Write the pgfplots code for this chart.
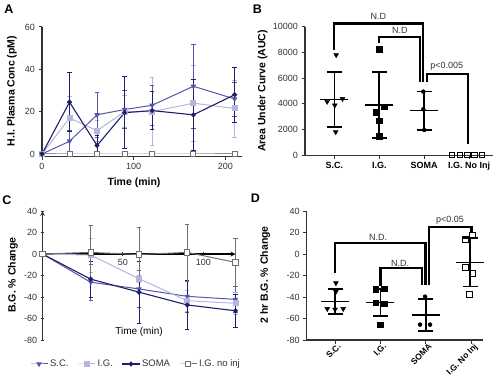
\documentclass[border=0pt]{standalone}
\usepackage{pgfplots}
\pgfplotsset{compat=1.18}
\usepackage{fontspec}
\setmainfont{Liberation Sans}
\definecolor{soma}{HTML}{1E1E6C}
\definecolor{sc}{HTML}{5656A8}
\definecolor{ig}{HTML}{B5B5DD}
\definecolor{noinj}{HTML}{707070}
\definecolor{ax}{HTML}{333333}
\pgfplotsset{
  prism/.style={scale only axis, axis lines=left, axis line style={-, draw=ax, line width=1.2pt},
    tick align=outside, major tick length=3.5pt, tick style={ax, line width=1pt},
    ticklabel style={font=\fontsize{9}{10}\selectfont, text=ax},
    label style={font=\bfseries\fontsize{10.5}{11}\selectfont, text=black},
    scaled ticks=false,
    /pgf/number format/assume math mode=true, /pgf/number format/1000 sep={}, clip=false},
  eb/.style={error bars/.cd, y dir=both, y explicit,
    error bar style={line width=0.7pt, #1},
    error mark options={rotate=90, mark size=2.2pt, line width=0.7pt, #1}},
  meansd/.style={black, only marks, mark=-, mark size=14pt, mark options={line width=1.6pt},
    error bars/.cd, y dir=both, y explicit, error bar style={line width=1.6pt, black},
    error mark options={rotate=90, mark size=7.5pt, line width=1.6pt, black}},
  bracket/.style={black, line width=2.1pt, no marks},
}
\begin{document}
\begin{tikzpicture}
\path[use as bounding box] (0pt,0pt) rectangle (500pt,386pt);
\node[font=\bfseries\fontsize{12.5}{13}\selectfont] at (9pt,377pt) {A};
\node[font=\bfseries\fontsize{12.5}{13}\selectfont] at (257.5pt,377pt) {B};
\node[font=\bfseries\fontsize{12.5}{13}\selectfont] at (7pt,186pt) {C};
\node[font=\bfseries\fontsize{12.5}{13}\selectfont] at (255.5pt,188pt) {D};

% ---------------- A ----------------
\begin{axis}[prism, at={(42pt,229.9pt)}, anchor=south west, width=200pt, height=129.1pt,
  xmin=0, xmax=218, ymin=-1, ymax=60, xtick={0,100,200}, ytick={0,20,40,60},
  xlabel={Time (min)}, ylabel={H.I. Plasma Conc (pM)},
  xlabel style={at={(axis description cs:0.46,-0.206)}, anchor=center},
  ylabel style={at={(axis description cs:-0.15,0.504)}, anchor=center}]
\addplot[noinj!80, line width=1pt, mark=square*, mark size=2.5pt, mark options={fill=white, draw=noinj, line width=0.9pt}]
  coordinates {(0,0) (30,0) (60,0) (90,0) (120,0) (165,0) (210,0)};
\addplot[ig, line width=1pt, mark=square*, mark size=2.5pt, eb=ig] coordinates {
  (0,0) +- (0,0) (30,17) +- (0,10) (60,11) +- (0,5) (90,20) +- (0,7.5)
  (120,20) +- (0,16) (165,24) +- (0,18) (210,21.5) +- (0,13.5)};
\addplot[sc, line width=1pt, mark=triangle*, mark size=2.2pt, mark options={rotate=180}, eb=sc] coordinates {
  (0,0) +- (0,0) (30,6) +- (0,5) (60,18.5) +- (0,10.5) (90,21) +- (0,9)
  (120,23) +- (0,9.5) (165,32) +- (0,20) (210,26) +- (0,8)};
\addplot[soma, line width=1.1pt, mark=*, mark size=1.9pt, eb=soma] coordinates {
  (0,0) +- (0,0) (30,24.5) +- (0,14) (60,4) +- (0,5) (90,19.5) +- (0,17)
  (120,20.5) +- (0,9) (165,18.5) +- (0,17) (210,28) +- (0,13)};
\end{axis}

% ---------------- B ----------------
\begin{axis}[prism, at={(305pt,230.7pt)}, anchor=south west, width=188pt, height=128.6pt,
  xmin=0.347, xmax=4.53, ymin=0, ymax=10000, xtick={1,2,3,4},
  xticklabels={S.C.,I.G.,SOMA,I.G. No Inj},
  xticklabel style={font=\bfseries\fontsize{9}{10}\selectfont, text=black},
  ytick={0,2000,4000,6000,8000,10000},
  ylabel={Area Under Curve (AUC)},
  ylabel style={at={(axis description cs:-0.225,0.5)}, anchor=center}]
\addplot[only marks, mark=triangle*, mark size=2.8pt, mark options={rotate=180, black}]
  coordinates {(1.04,7800) (0.84,4170) (1.01,3890) (1.18,4400) (1.03,1810)};
\addplot[meansd] coordinates {(1,4350) +- (0,2140)};
\addplot[only marks, mark=square*, mark size=2.7pt, mark options={black}]
  coordinates {(2.0,8260) (2.11,3760) (1.92,3340) (2.0,2670) (2.0,1500)};
\addplot[meansd] coordinates {(2,3910) +- (0,2560)};
\addplot[only marks, mark=*, mark size=2pt, mark options={black}]
  coordinates {(2.98,4950) (2.98,3580) (3.0,1970)};
\addplot[meansd] coordinates {(3,3470) +- (0,1480)};
\addplot[only marks, mark=square, mark size=2.7pt, mark options={black, line width=1pt}]
  coordinates {(3.62,0) (3.79,0) (3.96,0) (4.12,0) (4.29,0)};
\addplot[bracket] coordinates {(1,8200) (1,10250) (2.98,10250) (2.98,5700)};
\addplot[bracket] coordinates {(2,8700) (2,9220) (2.91,9220) (2.91,5700)};
\addplot[bracket] coordinates {(3.06,5700) (3.06,6350) (3.97,6350) (3.97,850)};
\node[font=\fontsize{9}{10}\selectfont, text=ax] at (axis cs:1.98,10800) {N.D};
\node[font=\fontsize{9}{10}\selectfont, text=ax] at (axis cs:2.46,9700) {N.D};
\node[font=\fontsize{9}{10}\selectfont, text=ax] at (axis cs:3.50,6950) {p<0.005};
\end{axis}

% ---------------- C ----------------
\begin{axis}[prism, at={(42.5pt,46pt)}, anchor=south west, width=193pt, height=129pt,
  axis x line=middle, axis y line=left,
  xmin=0, xmax=120, ymin=-80, ymax=40, xtick={50,100}, ytick={-80,-60,-40,-20,0,20,40},
  x axis line style={draw=black},
  xlabel={Time (min)}, ylabel={B.G. \% Change},
  xlabel style={at={(axis description cs:0.5,0.062)}, anchor=center},
  ylabel style={at={(axis description cs:-0.153,0.504)}, anchor=center},
  legend columns=4,
  legend style={at={(axis description cs:0.484,-0.186)}, anchor=center, draw=none, fill=none,
    font=\fontsize{9.5}{10}\selectfont, text=ax, /tikz/every even column/.append style={column sep=7pt}}]
\addplot[sc, line width=1pt, mark=triangle*, mark size=2.2pt, mark options={rotate=180}, eb=sc] coordinates {
  (0,0) +- (0,0) (30,-26.3) +- (0,17) (60,-32.5) +- (0,17) (90,-39.4) +- (0,15) (120,-42.2) +- (0,12)};
\addlegendentry{S.C.}
\addplot[ig, line width=1pt, mark=square*, mark size=2.5pt, eb=ig] coordinates {
  (0,0) +- (0,0) (30,-1) +- (0,16) (60,-23) +- (0,3) (90,-43.4) +- (0,10) (120,-45.9) +- (0,10)};
\addlegendentry{I.G.}
\addplot[soma, line width=1.1pt, mark=*, mark size=1.9pt, eb=soma] coordinates {
  (0,0) +- (0,0) (30,-23.4) +- (0,17) (60,-35.5) +- (0,29) (90,-47.4) +- (0,23) (120,-52.8) +- (0,15)};
\addlegendentry{SOMA}
\addplot[noinj, line width=1pt, mark=square*, mark size=2.6pt, mark options={fill=white, draw=noinj, line width=0.9pt}, eb=noinj] coordinates {
  (0,0) +- (0,0) (30,1.5) +- (0,25) (60,-0.5) +- (0,25) (90,1.5) +- (0,26.5) (120,-7.8) +- (0,22.5)};
\addlegendentry{I.G. no inj}
\end{axis}

% ---------------- D ----------------
\begin{axis}[prism, at={(306.7pt,46pt)}, anchor=south west, width=176.6pt, height=129pt,
  xmin=0.378, xmax=4.26, ymin=-80, ymax=40, xtick={1,2,3,4},
  xticklabels={S.C.,I.G.,SOMA,I.G. No Inj},
  xticklabel style={font=\bfseries\fontsize{8.5}{9}\selectfont, text=black, rotate=45, anchor=north east, inner sep=1pt, xshift=3pt},
  ytick={-80,-60,-40,-20,0,20,40},
  ylabel={2 hr B.G. \% Change},
  ylabel style={at={(axis description cs:-0.235,0.504)}, anchor=center}]
\addplot[only marks, mark=triangle*, mark size=2.8pt, mark options={rotate=180, black}]
  coordinates {(1.02,-27) (1.02,-35) (0.83,-51) (1.0,-51.5) (1.18,-51)};
\addplot[meansd] coordinates {(1,-44.3) +- (0,11.5)};
\addplot[only marks, mark=square*, mark size=2.7pt, mark options={black}]
  coordinates {(1.9,-32.6) (2.08,-32) (1.9,-45.3) (2.08,-46.2) (1.99,-65.7)};
\addplot[meansd] coordinates {(2,-45) +- (0,12.7)};
\addplot[only marks, mark=*, mark size=2pt, mark options={black}]
  coordinates {(2.98,-39.7) (2.87,-65.7) (3.09,-65.7)};
\addplot[meansd] coordinates {(3,-56.7) +- (0,14.8)};
\addplot[only marks, mark=square, mark size=3pt, mark options={black, line width=1pt}]
  coordinates {(4.03,17.4) (3.87,13.6) (3.87,-12.7) (4.03,-18.6) (3.95,-37.5)};
\addplot[meansd] coordinates {(3.97,-7.8) +- (0,22.5)};
\addplot[bracket] coordinates {(1,-18) (1,10.5) (2.99,10.5) (2.99,-29)};
\addplot[bracket] coordinates {(2,-30) (2,-13.3) (2.92,-13.3) (2.92,-29)};
\addplot[bracket] coordinates {(3.07,-29) (3.07,25.4) (4.0,25.4) (4.0,20.8)};
\node[font=\fontsize{9}{10}\selectfont, text=ax] at (axis cs:1.95,15.2) {N.D.};
\node[font=\fontsize{9}{10}\selectfont, text=ax] at (axis cs:2.43,-8.3) {N.D.};
\node[font=\fontsize{9}{10}\selectfont, text=ax] at (axis cs:3.53,31.5) {p<0.05};
\end{axis}
\end{tikzpicture}
\end{document}
